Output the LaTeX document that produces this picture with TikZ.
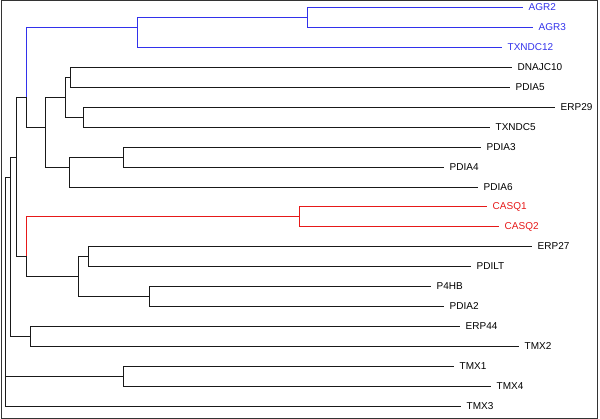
\documentclass[tikz,border=0pt]{standalone}
\usepackage{fontspec}
\setmainfont{Liberation Sans}
\definecolor{cladeblue}{RGB}{50,50,235}
\definecolor{cladered}{RGB}{230,25,25}
\tikzset{
  branch/.style={line width=1.3pt, black!90},
  leaf/.style={inner xsep=5.5pt, inner ysep=1pt, anchor=west,
    font=\fontsize{10}{12}\selectfont},
}
% leaf name, row, x where its branch ends, extra style
\newcommand{\placeleaf}[4]{%
  \node[leaf, #4] (#1) at (#3, {floor(7.5+19.95*#2)+0.5}) {#1};
}
% split node at x, mean of its leaf rows
\newcommand{\placesplit}[3]{%
  \coordinate (#1) at (#2+0.5, {floor(7.5+19.95*#3)+0.5});
}

\begin{document}
\begin{tikzpicture}[x=1pt, y=-1pt]
  \useasboundingbox (0,0) rectangle (600,419);

  % frame
  \draw[line width=1.2pt, black!80] (1.5,0.5) rectangle (597.5,418.5);

  % leaves
  \placeleaf{AGR2}{0}{523}{text=cladeblue}
  \placeleaf{AGR3}{1}{533}{text=cladeblue}
  \placeleaf{TXNDC12}{2}{502}{text=cladeblue}
  \placeleaf{DNAJC10}{3}{512}{}
  \placeleaf{PDIA5}{4}{510}{}
  \placeleaf{ERP29}{5}{555}{}
  \placeleaf{TXNDC5}{6}{490}{}
  \placeleaf{PDIA3}{7}{481}{}
  \placeleaf{PDIA4}{8}{444}{}
  \placeleaf{PDIA6}{9}{478}{}
  \placeleaf{CASQ1}{10}{487}{text=cladered}
  \placeleaf{CASQ2}{11}{499}{text=cladered}
  \placeleaf{ERP27}{12}{532}{}
  \placeleaf{PDILT}{13}{471}{}
  \placeleaf{P4HB}{14}{431}{}
  \placeleaf{PDIA2}{15}{444}{}
  \placeleaf{ERP44}{16}{460}{}
  \placeleaf{TMX2}{17}{519}{}
  \placeleaf{TMX1}{18}{454}{}
  \placeleaf{TMX4}{19}{491}{}
  \placeleaf{TMX3}{20}{461}{}

  % splits
  \placesplit{nAgr}{307}{0.5}
  \placesplit{nTx}{137}{1}
  \placesplit{nDna}{70}{3.5}
  \placesplit{nErp}{83}{5.5}
  \placesplit{nPd}{65}{4.5}
  \placesplit{nPdiC}{123}{7.5}
  \placesplit{nPdiB}{69}{8}
  \placesplit{nPdiA}{45}{6}
  \placesplit{nTop}{26}{4.5}
  \placesplit{nCasq}{299}{10.5}
  \placesplit{nPdil}{88}{12.5}
  \placesplit{nP4hb}{149}{14.5}
  \placesplit{nLowB}{78}{13.5}
  \placesplit{nLowA}{26}{12.5}
  \placesplit{nMid}{16}{7.5}
  \placesplit{nErp44}{30}{16.5}
  \placesplit{nUp}{10}{8.5}
  \placesplit{nTmx}{123}{18.5}
  \placesplit{root}{5}{10}

  % blue clade
  \foreach \p/\c in {nAgr/AGR2.west, nAgr/AGR3.west, nTx/nAgr,
                     nTx/TXNDC12.west, nTop/nTx}
    \draw[branch, cladeblue] (\p) |- (\c);

  % red clade
  \foreach \p/\c in {nCasq/CASQ1.west, nCasq/CASQ2.west, nLowA/nCasq}
    \draw[branch, cladered] (\p) |- (\c);

  % the rest
  \foreach \p/\c in {nDna/DNAJC10.west, nDna/PDIA5.west,
                     nErp/ERP29.west, nErp/TXNDC5.west,
                     nPd/nDna, nPd/nErp,
                     nPdiC/PDIA3.west, nPdiC/PDIA4.west,
                     nPdiB/nPdiC, nPdiB/PDIA6.west,
                     nPdiA/nPd, nPdiA/nPdiB, nTop/nPdiA,
                     nPdil/ERP27.west, nPdil/PDILT.west,
                     nP4hb/P4HB.west, nP4hb/PDIA2.west,
                     nLowB/nPdil, nLowB/nP4hb, nLowA/nLowB,
                     nMid/nTop, nMid/nLowA,
                     nErp44/ERP44.west, nErp44/TMX2.west,
                     nUp/nMid, nUp/nErp44,
                     nTmx/TMX1.west, nTmx/TMX4.west,
                     root/nUp, root/nTmx, root/TMX3.west}
    \draw[branch] (\p) |- (\c);

\end{tikzpicture}
\end{document}
